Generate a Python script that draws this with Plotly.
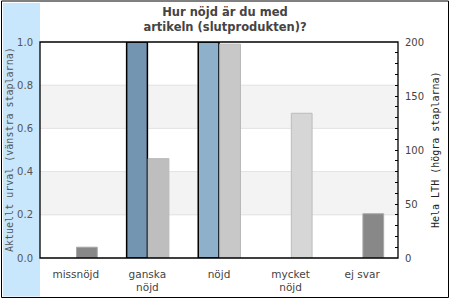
import plotly.graph_objects as go

categories = ["missnöjd", "ganska<br>nöjd", "nöjd", "mycket<br>nöjd", "ej svar"]
left_values = [None, 1.0, 1.0, None, None]          # Aktuellt urval (0-1)
right_values = [10, 92, 198, 134, 41]                # Hela LTH (0-200)
left_colors = ["#7495b1", "#7495b1", "#8fb0cb", "#8fb0cb", "#8fb0cb"]
right_colors = ["#888888", "#bebebe", "#c8c8c8", "#d6d6d6", "#888888"]
right_line_colors = ["#a8a8a8", "#b8b8b8", "#b8b8b8", "#bcbcbc", "#a8a8a8"]
left_ticks = [0, 0.2, 0.4, 0.6, 0.8, 1.0]
left_ticktext = ["0.0", "0.2", "0.4", "0.6", "0.8", "1.0"]
right_ticks = [0, 50, 100, 150, 200]

W, H = 450, 300
ML, MR, MT, MB = 40, 52, 42, 42
PW, PH = W - ML - MR, H - MT - MB

def px(x):
    return (x - ML) / PW

def py(y):
    return (H - MB - y) / PH

fig = go.Figure()
fig.add_trace(go.Bar(
    x=categories, y=left_values, yaxis="y", width=0.29, offset=-0.29,
    marker=dict(color=left_colors, line=dict(color="black", width=1.5)),
    showlegend=False, hoverinfo="skip"))
fig.add_trace(go.Bar(
    x=categories, y=right_values, yaxis="y2", width=0.29, offset=0.01,
    marker=dict(color=right_colors, line=dict(color=right_line_colors, width=1)),
    showlegend=False, hoverinfo="skip"))

shapes = []
# background bands
for a, b in [(0.2, 0.4), (0.6, 0.8)]:
    shapes.append(dict(type="rect", xref="paper", yref="y", x0=0, x1=1, y0=a, y1=b,
                       fillcolor="#f3f3f3", line=dict(width=0), layer="below"))
for g in [0.2, 0.4, 0.6, 0.8]:
    shapes.append(dict(type="line", xref="paper", yref="y", x0=0, x1=1, y0=g, y1=g,
                       line=dict(color="#e2e2e2", width=1), layer="below"))
# left light blue strip
shapes.append(dict(type="rect", xref="paper", yref="paper", x0=px(3), x1=px(40),
                   y0=py(296.5), y1=py(3), fillcolor="#c8e7fc", line=dict(width=0), layer="below"))
# outer border
shapes.append(dict(type="rect", xref="paper", yref="paper", x0=px(1.5), x1=px(448.5),
                   y0=py(297.5), y1=py(1), line=dict(color="black", width=1), layer="above"))
# plot frame
shapes.append(dict(type="rect", xref="paper", yref="paper", x0=0, x1=1, y0=0, y1=1,
                   line=dict(color="black", width=1.3), layer="above"))

annotations = [
    dict(text="Aktuellt urval (vänstra staplarna)", xref="paper", yref="paper",
         x=px(9), y=0.5, textangle=-90, showarrow=False, xanchor="center", yanchor="middle",
         font=dict(family="DejaVu Sans Mono", size=10, color="#555555")),
    dict(text="Hela LTH (högra staplarna)", xref="paper", yref="paper",
         x=px(435), y=0.5, textangle=-90, showarrow=False, xanchor="center", yanchor="middle",
         font=dict(family="DejaVu Sans Mono", size=10, color="#222222")),
]

fig.update_layout(
    width=W, height=H,
    margin=dict(l=ML, r=MR, t=MT, b=MB, autoexpand=False),
    paper_bgcolor="white", plot_bgcolor="white",
    title=dict(text="Hur nöjd är du med<br>artikeln (slutprodukten)?", x=0.5, xref="container",
               xanchor="center", y=1 - 16 / H, yanchor="middle", yref="container",
               font=dict(family="DejaVu Sans", size=11.5, color="#444444", weight="bold")),
    xaxis=dict(type="category", showgrid=False, showline=False, zeroline=False, ticks="",
               automargin=False,
               tickfont=dict(family="DejaVu Sans", size=10.5, color="#444444"),
               ticklabelstandoff=8, range=[-0.5, 4.5]),
    yaxis=dict(range=[0, 1.0], tickvals=left_ticks, ticktext=left_ticktext, showgrid=False,
               zeroline=False, showline=False, ticks="", automargin=False,
               tickfont=dict(family="DejaVu Sans", size=10, color="#555555"),
               ticklabelstandoff=6),
    yaxis2=dict(range=[0, 200], overlaying="y", side="right", tickvals=right_ticks,
                showgrid=False, zeroline=False, showline=False, automargin=False,
                ticks="inside", ticklen=3, tickcolor="black", tickwidth=1,
                minor=dict(dtick=10, ticks="inside", ticklen=3, tickcolor="black", tickwidth=1),
                tickfont=dict(family="DejaVu Sans", size=10, color="#444444"),
                ticklabelstandoff=6),
    barmode="overlay",
    shapes=shapes,
    annotations=annotations,
)

fig.write_html("out.html")
